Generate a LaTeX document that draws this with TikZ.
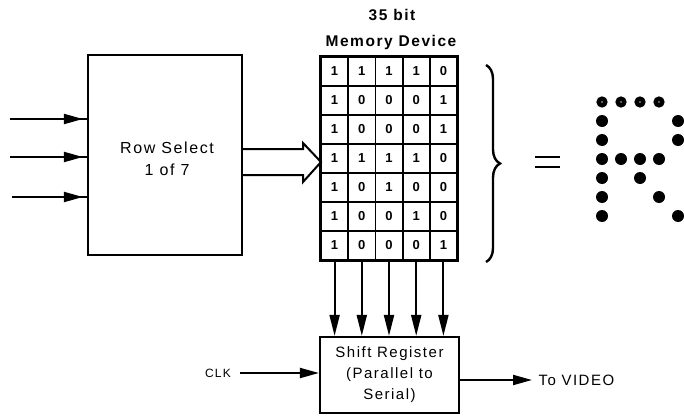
\documentclass[tikz,border=0pt]{standalone}
\usepackage{fontspec}
\setmainfont{Liberation Sans}
\newfontfamily\lab[LetterSpace=10]{Liberation Sans}
\usetikzlibrary{arrows.meta,decorations.pathreplacing,calc}
\begin{document}
\begin{tikzpicture}[x=1pt,y=-1pt,
  every node/.style={font=\lab\fontsize{15}{21}\selectfont},
  ln/.style={line width=2pt},
  box/.style={draw,line width=2.2pt,inner sep=0pt},
  cell/.style={draw,line width=1.8pt,minimum width=27.2pt,minimum height=29pt,inner sep=0pt,font=\lab\bfseries\fontsize{13}{15}\selectfont},
  tip/.style={-{Triangle[length=19pt,width=10pt]}},
  dtip/.style={-{Triangle[length=21pt,width=10pt]}},
  dot/.style={fill=black,circle,inner sep=0pt,minimum size=12pt},
  ring/.style={draw=black,circle,inner sep=0pt,minimum size=6.5pt,line width=4.5pt},
  ttl/.style={font=\lab\bfseries\fontsize{15.5}{18}\selectfont}
]
\useasboundingbox (0,0) rectangle (684,417);

% Row select
\node[box,minimum width=154pt,minimum height=200pt] (rs) at (165,155) {};
\node[align=center,font=\lab\fontsize{16}{22}\selectfont] (rst) at (167,159) {Row Select\\1 of 7};
\coordinate (i1) at (10,119);
\coordinate (i2) at (10,157);
\coordinate (i3) at (12,197);
\foreach \i in {1,2,3} {
  \draw[ln] (i\i) -- (i\i -| rs.west);
  \draw[ln,tip,shorten >=4pt] (i\i) -- (i\i -| rs.west);
}

% Memory cells
\foreach \r/\vals in {1/{1,1,1,1,0},2/{1,0,0,0,1},3/{1,0,0,0,1},4/{1,1,1,1,0},5/{1,0,1,0,0},6/{1,0,0,1,0},7/{1,0,0,0,1}} {
  \foreach \v [count=\c] in \vals {
    \node[cell] (c-\r-\c) at ({321+27.2*(\c-0.5)},{57+29*(\r-0.5)}) {\v};
    \ifnum\v=1
      \ifnum\r=1
        \node[ring] (d-\r-\c) at ({602+19*(\c-1)},{102+19*(\r-1)}) {};
      \else
        \node[dot] (d-\r-\c) at ({602+19*(\c-1)},{102+19*(\r-1)}) {};
      \fi
    \fi
  }
}
\draw[line width=2.6pt] (c-1-1.north west) rectangle (c-7-5.south east);

% Titles
\node[ttl] (t1) at (392,15) {35 bit};
\node[ttl] (t2) at (391,42) {Memory Device};

% Hollow arrow
\draw[ln] (rs.east |- 0,149) -- (303,149) -- (303,143) -- (321,162) -- (303,182) -- (303,175) -- (rs.east |- 0,175);

% Brace
\coordinate (b1) at (486,65);
\coordinate (b2) at (486,262);
\draw[line width=2.4pt,decorate,decoration={brace,amplitude=14pt}] (b1) -- (b2);

% Equals
\draw[line width=2.4pt] (535,157) -- (560,157);
\draw[line width=2.4pt] (535,167) -- (560,167);

% Shift register
\node[box,minimum width=139pt,minimum height=76pt,align=center] (sr) at (389.5,375) {Shift Register\\(Parallel to\\Serial)};
\foreach \c in {1,...,5} {
  \draw[ln,dtip] (c-7-\c.south) -- (c-7-\c.south |- sr.north);
}

% CLK
\node[font=\lab\fontsize{12}{14}\selectfont] (clk) at (218,373) {CLK};
\draw[ln,tip] ([xshift=6pt]clk.east) -- (clk -| sr.west);

% Output
\node[anchor=west] (vid) at (535,380) {To VIDEO};
\draw[ln,tip] (sr.east |- vid.west) -- ([xshift=-3pt]vid.west);
\end{tikzpicture}
\end{document}
